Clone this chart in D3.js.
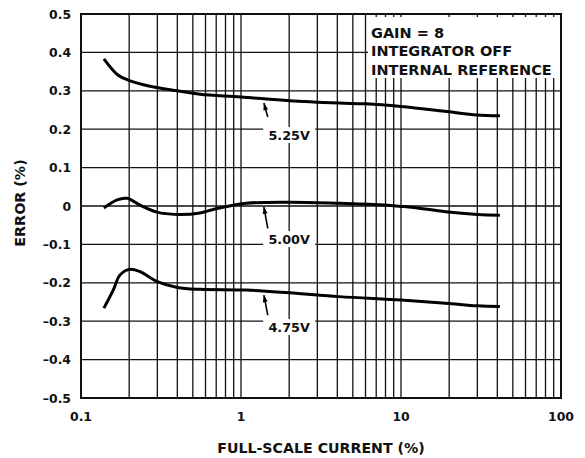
<!DOCTYPE html>
<html><head><meta charset="utf-8">
<script src="https://cdn.jsdelivr.net/npm/d3@7"></script>
<style>
html,body{margin:0;padding:0;background:#fff;}
text{font-family:"DejaVu Sans",Verdana,sans-serif;font-weight:700;fill:#111;}
</style></head>
<body><svg id="c" width="585" height="458"></svg>
<script>
const xTicks = [0.1, 1, 10, 100];
const xTickLabels = ["0.1", "1", "10", "100"];
const yTicks = [0.5, 0.4, 0.3, 0.2, 0.1, 0, -0.1, -0.2, -0.3, -0.4, -0.5];
const yTickLabels = ["0.5", "0.4", "0.3", "0.2", "0.1", "0", "\u20130.1", "\u20130.2", "\u20130.3", "\u20130.4", "\u20130.5"];
const seriesNames = ["5.25V", "5.00V", "4.75V"];
const s525 = [[0.139,0.383],[0.17,0.341],[0.197,0.328],[0.27,0.312],[0.4,0.300],[0.555,0.291],[1.0,0.284],[2.0,0.274],[4.1,0.268],[6,0.266],[10,0.259],[19.3,0.246],[29.8,0.237],[41.5,0.235]];
const s500 = [[0.139,-0.005],[0.168,0.016],[0.194,0.02],[0.234,0.002],[0.298,-0.016],[0.4,-0.022],[0.555,-0.018],[0.67,-0.009],[1.08,0.007],[2.0,0.01],[4.1,0.007],[7.4,0.003],[10,-0.001],[12,-0.004],[19,-0.015],[30,-0.022],[41.5,-0.024]];
const s475 = [[0.139,-0.266],[0.159,-0.219],[0.175,-0.18],[0.2,-0.165],[0.234,-0.171],[0.3,-0.197],[0.4,-0.212],[0.555,-0.217],[1.08,-0.219],[2.0,-0.226],[4.1,-0.236],[10,-0.245],[19,-0.253],[30,-0.26],[41.5,-0.262]];
const labelPos = [[2.0,0.185],[2.0,-0.086],[2.0,-0.315]];
const arrowTail = [[1.47,0.232],[1.47,-0.058],[1.47,-0.284]];
const arrowTip = [[1.39,0.268],[1.39,-0.002],[1.39,-0.232]];
const noteLines = ["GAIN = 8", "INTEGRATOR OFF", "INTERNAL REFERENCE"];
const xTitle = "FULL-SCALE CURRENT (%)";
const yTitle = "ERROR (%)";

const svg = d3.select("#c");
const L = 81, R = 561, T = 14, B = 398;
const x = d3.scaleLog().domain([0.1, 100]).range([L, R]);
const y = d3.scaleLinear().domain([-0.5, 0.5]).range([B, T]);

// grid
const minor = [];
for (let d = 0.1; d < 100; d *= 10) for (let k = 1; k <= 9; k++) minor.push(+(d * k).toPrecision(3));
svg.append("g").selectAll("line").data(minor).join("line")
  .attr("x1", d => x(d)).attr("x2", d => x(d)).attr("y1", T).attr("y2", B)
  .attr("stroke", "#111").attr("stroke-width", 1.3);
svg.append("g").selectAll("line").data(yTicks).join("line")
  .attr("x1", L).attr("x2", R).attr("y1", d => y(d)).attr("y2", d => y(d))
  .attr("stroke", "#111").attr("stroke-width", 1.3);

// note box
svg.append("rect").attr("x", 368).attr("y", 17).attr("width", 193).attr("height", 61).attr("fill", "#fff");
svg.append("g").selectAll("text").data(noteLines).join("text")
  .attr("x", 371).attr("y", (d, i) => 37.5 + i * 18.5).attr("font-size", 14.5).text(d => d);

// series
const line = d3.line().x(d => x(d[0])).y(d => y(d[1])).curve(d3.curveCatmullRom.alpha(0.5));
[s525, s500, s475].forEach(s => {
  svg.append("path").datum(s).attr("d", line).attr("fill", "none")
    .attr("stroke", "#000").attr("stroke-width", 3).attr("stroke-linecap", "butt");
});

// labels
const defs = svg.append("defs");
defs.append("marker").attr("id", "ah").attr("viewBox", "0 0 10 10").attr("refX", 10).attr("refY", 5)
  .attr("markerWidth", 9).attr("markerHeight", 7).attr("markerUnits", "userSpaceOnUse").attr("orient", "auto")
  .append("path").attr("d", "M0,1.5 L10,5 L0,8.5 Z").attr("fill", "#000");
seriesNames.forEach((n, i) => {
  const cx = x(labelPos[i][0]), cy = y(labelPos[i][1]);
  svg.append("rect").attr("x", cx - 26).attr("y", cy - 8).attr("width", 52).attr("height", 16).attr("fill", "#fff");
  svg.append("text").attr("x", cx).attr("y", cy + 4.8).attr("text-anchor", "middle").attr("font-size", 12.8).text(n);
  svg.append("line").attr("x1", x(arrowTail[i][0])).attr("y1", y(arrowTail[i][1]))
    .attr("x2", x(arrowTip[i][0])).attr("y2", y(arrowTip[i][1]))
    .attr("stroke", "#000").attr("stroke-width", 1.6).attr("marker-end", "url(#ah)");
});

// border
svg.append("rect").attr("x", L).attr("y", T).attr("width", R - L).attr("height", B - T)
  .attr("fill", "none").attr("stroke", "#111").attr("stroke-width", 2);

// axes labels
svg.append("g").selectAll("text").data(yTicks).join("text")
  .attr("x", 71).attr("y", d => y(d) + 4.5).attr("text-anchor", "end").attr("font-size", 12.4)
  .text((d, i) => yTickLabels[i]);
svg.append("g").selectAll("text").data(xTicks).join("text")
  .attr("x", d => x(d)).attr("y", 421).attr("text-anchor", "middle").attr("font-size", 12.4)
  .text((d, i) => xTickLabels[i]);
svg.append("text").attr("x", 321).attr("y", 453).attr("text-anchor", "middle").attr("font-size", 14.2).text(xTitle);
svg.append("text").attr("transform", "translate(25,203) rotate(-90)").attr("text-anchor", "middle").attr("font-size", 14.3).text(yTitle);
</script></body></html>
